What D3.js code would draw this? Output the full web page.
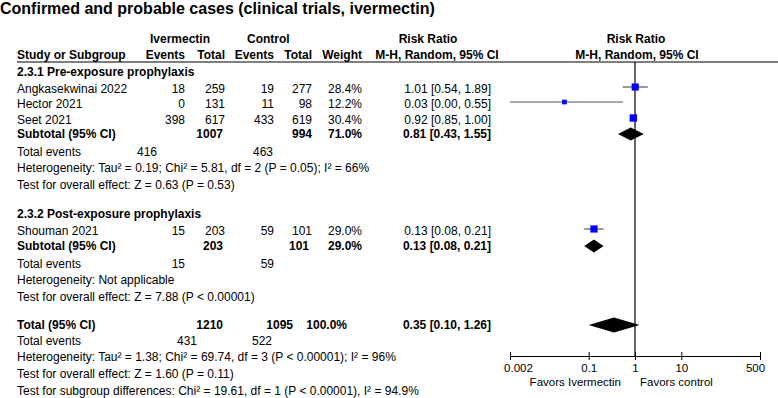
<!DOCTYPE html>
<html>
<head>
<meta charset="utf-8">
<script src="https://cdn.jsdelivr.net/npm/d3@7"></script>
<style>
  html, body { margin: 0; padding: 0; background: #fff; }
  svg { display: block; }
  text { font-family: "Liberation Sans", Arial, sans-serif; fill: #000; }
</style>
</head>
<body>
<svg id="chart" width="778" height="398"></svg>
<script>
// ---------- DATA ----------
const title = "Confirmed and probable cases (clinical trials, ivermectin)";
const studies = ["Angkasekwinai 2022", "Hector 2021", "Seet 2021", "Shouman 2021"];
const studyGroup = [0, 0, 0, 1];
const eventsIver = [18, 0, 398, 15];
const totalIver = [259, 131, 617, 203];
const eventsCtrl = [19, 11, 433, 59];
const totalCtrl = [277, 98, 619, 101];
const weights = [28.4, 12.2, 30.4, 29.0];
const rr = [1.01, 0.03, 0.92, 0.13];
const rrLow = [0.54, 0.002, 0.85, 0.08];
const rrHigh = [1.89, 0.55, 1.00, 0.21];

const groups = ["2.3.1 Pre-exposure prophylaxis", "2.3.2 Post-exposure prophylaxis"];
const groupTotalIver = [1007, 203];
const groupTotalCtrl = [994, 101];
const groupWeight = [71.0, 29.0];
const groupRR = [0.81, 0.13];
const groupLow = [0.43, 0.08];
const groupHigh = [1.55, 0.21];
const groupEventsIver = [416, 15];
const groupEventsCtrl = [463, 59];
const groupHet = [
  "Heterogeneity: Tau\u00b2 = 0.19; Chi\u00b2 = 5.81, df = 2 (P = 0.05); I\u00b2 = 66%",
  "Heterogeneity: Not applicable"
];
const groupEffect = [
  "Test for overall effect: Z = 0.63 (P = 0.53)",
  "Test for overall effect: Z = 7.88 (P < 0.00001)"
];

const overallTotalIver = 1210, overallTotalCtrl = 1095, overallWeight = 100.0;
const overallRR = 0.35, overallLow = 0.10, overallHigh = 1.26;
const overallEventsIver = 431, overallEventsCtrl = 522;
const overallHet = "Heterogeneity: Tau\u00b2 = 1.38; Chi\u00b2 = 69.74, df = 3 (P < 0.00001); I\u00b2 = 96%";
const overallEffect = "Test for overall effect: Z = 1.60 (P = 0.11)";
const subgroupDiff = "Test for subgroup differences: Chi\u00b2 = 19.61, df = 1 (P < 0.00001), I\u00b2 = 94.9%";

const tickValues = [0.002, 0.1, 1, 10, 500];
const tickLabels = ["0.002", "0.1", "1", "10", "500"];
const favorsLeft = "Favors Ivermectin";
const favorsRight = "Favors control";

// ---------- LAYOUT ----------
const svg = d3.select("#chart");
const FS = 12;
const labelX = 17;
const colX = { evI: 185, totI: 225, evC: 274, totC: 312, w: 362, rr: 491 };
// row centres (y)
const groupRowY = [
  { head: 72, studies: [89, 104, 120], sub: 134, ev: 152, het: 168, eff: 185 },
  { head: 214, studies: [231], sub: 246, ev: 264, het: 280, eff: 297 }
];
const totalRowY = { sub: 325, ev: 341, het: 357, eff: 374, diff: 391 };
const eventsX = [[157, 273], [185, 274]];
const totalEventsX = [197, 272];
const totalColX = { totI: 223, totC: 293, w: 347 };
const headerLineY = 62;
const axisY = 356;
const tickLabelShift = [8, 0, 0, 0, -5];

const x = d3.scaleLog().domain([0.002, 500]).range([510, 760]);
const sq = d3.scaleSqrt().domain([0, 30.4]).range([0, 7.4]);
const fmt2 = d3.format(".2f");
const rrText = (m, l, h) => `${fmt2(m)} [${fmt2(l)}, ${fmt2(h)}]`;

function txt(s, xx, yc, opts = {}) {
  return svg.append("text")
    .attr("x", xx).attr("y", yc + 4.2)
    .attr("font-size", opts.size || FS)
    .attr("font-weight", opts.bold ? "bold" : "normal")
    .attr("text-anchor", opts.anchor || "start")
    .text(s);
}

// Title
svg.append("text").attr("x", 0).attr("y", 14)
  .attr("font-size", 16).attr("font-weight", "bold").text(title);

// Headers
txt("Ivermectin", 150, 39, { bold: true });
txt("Control", 247, 39, { bold: true });
txt("Risk Ratio", 428, 39, { bold: true, anchor: "middle" });
txt("Risk Ratio", 636, 39, { bold: true, anchor: "middle" });
txt("Study or Subgroup", labelX, 55, { bold: true });
txt("Events", colX.evI, 55, { bold: true, anchor: "end" });
txt("Total", colX.totI, 55, { bold: true, anchor: "end" });
txt("Events", colX.evC, 55, { bold: true, anchor: "end" });
txt("Total", colX.totC, 55, { bold: true, anchor: "end" });
txt("Weight", colX.w, 55, { bold: true, anchor: "end" });
txt("M-H, Random, 95% CI", 437, 55, { bold: true, anchor: "middle" });
txt("M-H, Random, 95% CI", 637, 55, { bold: true, anchor: "middle" });

svg.append("line").attr("x1", labelX).attr("x2", 778)
  .attr("y1", headerLineY).attr("y2", headerLineY)
  .attr("stroke", "#000").attr("stroke-width", 1.2);

// Line of no effect
svg.append("line").attr("x1", x(1)).attr("x2", x(1))
  .attr("y1", headerLineY).attr("y2", axisY)
  .attr("stroke", "#000").attr("stroke-width", 1.2);

function diamond(m, l, h, yc, hh) {
  svg.append("path")
    .attr("d", `M${x(l)},${yc} L${x(m)},${yc - hh} L${x(h)},${yc} L${x(m)},${yc + hh} Z`)
    .attr("fill", "#000");
}

// Groups
groups.forEach((g, gi) => {
  const L = groupRowY[gi];
  txt(g, labelX, L.head, { bold: true });
  const idx = studies.map((s, i) => i).filter(i => studyGroup[i] === gi);
  idx.forEach((i, k) => {
    const y = L.studies[k];
    txt(studies[i], labelX, y);
    txt(eventsIver[i], colX.evI, y, { anchor: "end" });
    txt(totalIver[i], colX.totI, y, { anchor: "end" });
    txt(eventsCtrl[i], colX.evC, y, { anchor: "end" });
    txt(totalCtrl[i], colX.totC, y, { anchor: "end" });
    txt(d3.format(".1f")(weights[i]) + "%", colX.w, y, { anchor: "end" });
    txt(rrText(rr[i], rrLow[i], rrHigh[i]), colX.rr, y, { anchor: "end" });
    const ym = y - 2;
    svg.append("line")
      .attr("x1", x(Math.max(rrLow[i], 0.002))).attr("x2", x(rrHigh[i]))
      .attr("y1", ym).attr("y2", ym)
      .attr("stroke", "#555").attr("stroke-width", 1.2);
    const s = sq(weights[i]);
    svg.append("rect")
      .attr("x", x(rr[i]) - s / 2).attr("y", ym - s / 2)
      .attr("width", s).attr("height", s)
      .attr("fill", "#0000ff");
  });
  // subtotal
  txt("Subtotal (95% CI)", labelX, L.sub, { bold: true });
  txt(groupTotalIver[gi], colX.totI - 2, L.sub, { bold: true, anchor: "end" });
  txt(groupTotalCtrl[gi], colX.totC - (gi ? 3 : 0), L.sub, { bold: true, anchor: "end" });
  txt(d3.format(".1f")(groupWeight[gi]) + "%", colX.w, L.sub, { bold: true, anchor: "end" });
  txt(rrText(groupRR[gi], groupLow[gi], groupHigh[gi]), colX.rr, L.sub, { bold: true, anchor: "end" });
  diamond(groupRR[gi], groupLow[gi], groupHigh[gi], L.sub, 6.5);
  // events / het / effect
  txt("Total events", labelX, L.ev);
  txt(groupEventsIver[gi], eventsX[gi][0], L.ev, { anchor: "end" });
  txt(groupEventsCtrl[gi], eventsX[gi][1], L.ev, { anchor: "end" });
  txt(groupHet[gi], labelX, L.het);
  txt(groupEffect[gi], labelX, L.eff);
});

// Overall
txt("Total (95% CI)", labelX, totalRowY.sub, { bold: true });
txt(overallTotalIver, totalColX.totI, totalRowY.sub, { bold: true, anchor: "end" });
txt(overallTotalCtrl, totalColX.totC, totalRowY.sub, { bold: true, anchor: "end" });
txt(d3.format(".1f")(overallWeight) + "%", totalColX.w, totalRowY.sub, { bold: true, anchor: "end" });
txt(rrText(overallRR, overallLow, overallHigh), colX.rr, totalRowY.sub, { bold: true, anchor: "end" });
diamond(overallRR, overallLow, overallHigh, totalRowY.sub, 7.5);
txt("Total events", labelX, totalRowY.ev);
txt(overallEventsIver, totalEventsX[0], totalRowY.ev, { anchor: "end" });
txt(overallEventsCtrl, totalEventsX[1], totalRowY.ev, { anchor: "end" });
txt(overallHet, labelX, totalRowY.het);
txt(overallEffect, labelX, totalRowY.eff);
txt(subgroupDiff, labelX, totalRowY.diff);

// Axis
const axis = d3.axisBottom(x)
  .tickValues(tickValues)
  .tickFormat((d, i) => tickLabels[i])
  .tickSizeInner(3).tickSizeOuter(0).tickPadding(5);
const ag = svg.append("g").attr("transform", `translate(0,${axisY})`).call(axis);
ag.select(".domain").attr("stroke", "#000").attr("stroke-width", 1.2);
ag.selectAll(".tick line").attr("y1", -4).attr("y2", 4).attr("stroke", "#000");
ag.selectAll(".tick text")
  .attr("font-family", "Liberation Sans, Arial, sans-serif")
  .attr("font-size", 11.5).attr("fill", "#000")
  .attr("dx", (d, i) => tickLabelShift[i]);

txt(favorsLeft, x(1) - 14, 382, { anchor: "end", size: 11.5 });
txt(favorsRight, x(1) + 5, 382, { anchor: "start", size: 11.5 });
</script>
</body>
</html>
